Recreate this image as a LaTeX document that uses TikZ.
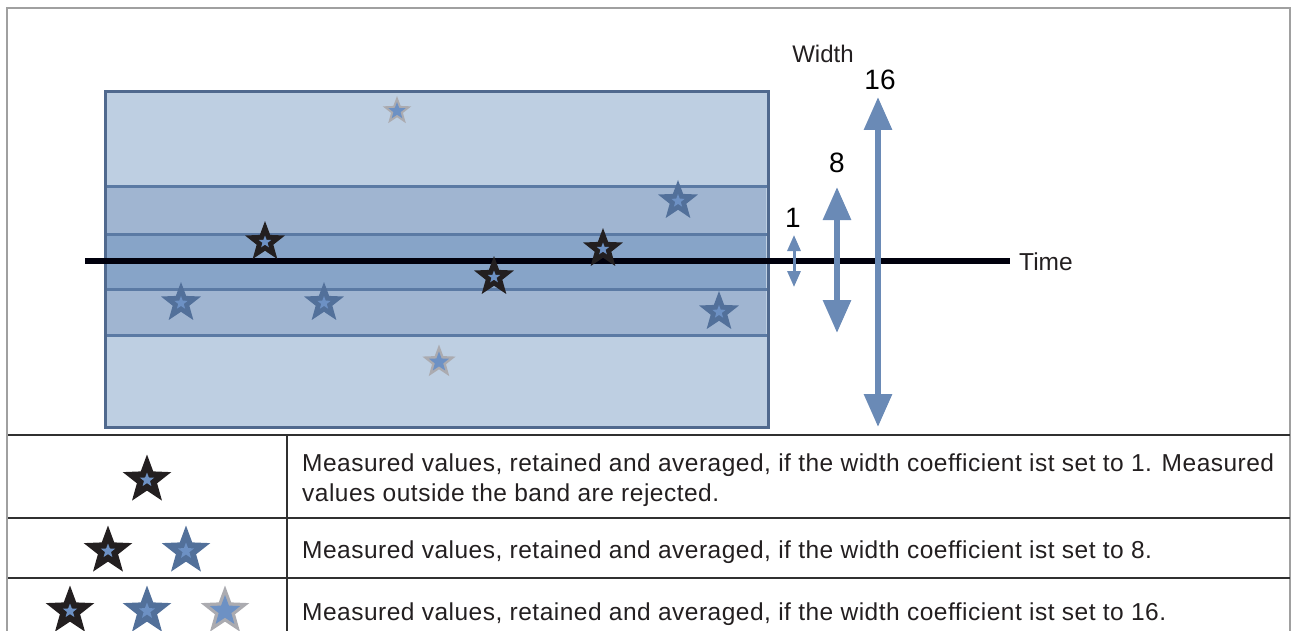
\documentclass[tikz,border=0pt]{standalone}
\usepackage{fontspec}
\setmainfont{Liberation Sans}
\usetikzlibrary{arrows.meta,shapes.geometric}

\definecolor{bandlight}{HTML}{BECFE2}
\definecolor{bandmid}{HTML}{A0B5D1}
\definecolor{bandin}{HTML}{87A4C8}
\definecolor{boxedge}{HTML}{50698E}
\definecolor{bandedge}{HTML}{5B7AA4}
\definecolor{arrowblue}{HTML}{6A8AB6}
\definecolor{starblack}{HTML}{231F20}
\definecolor{starblue}{HTML}{52709A}
\definecolor{starcore}{HTML}{6D91C4}
\definecolor{stargray}{HTML}{ABABB0}
\definecolor{framegray}{HTML}{A0A0A0}
\definecolor{rulegray}{HTML}{303030}

\tikzset{
  vstar/.style={star, star points=5, star point ratio=2.4, inner sep=0pt, outer sep=0pt, draw=none},
  legtext/.style={anchor=base west, inner sep=0pt, text=starblack, font=\fontsize{24.5pt}{30pt}\selectfont\addfontfeature{LetterSpace=2.0}},
  widthlabel/.style={inner sep=0pt, text=black, font=\fontsize{28pt}{30pt}\selectfont},
  bigarrow/.style={arrowblue, line width=6pt, {Triangle[length=33pt,width=27pt]}-{Triangle[length=33pt,width=27pt]}},
  smallarrow/.style={arrowblue, line width=3pt, {Triangle[length=16pt,width=13pt]}-{Triangle[length=16pt,width=13pt]}}
}

\begin{document}
\begin{tikzpicture}[x=1pt,y=-1pt]
    \useasboundingbox (0,0) rectangle (1292,631);

    % Draw frame and table rules
    \draw[framegray, line width=2.5pt] (7,631) -- (7,8) -- (1290,8) -- (1290,631);
    \draw[rulegray, line width=2.5pt] (8,435) -- (1290,435);
    \draw[rulegray, line width=2.5pt] (8,518) -- (1290,518);
    \draw[rulegray, line width=2.5pt] (8,578) -- (1290,578);
    \draw[rulegray, line width=2.5pt] (287,435) -- (287,631);

    % Draw bands
    \fill[bandlight] (105,92) rectangle (768,427);
    \fill[bandmid] (105,187) rectangle (766,335);
    \fill[bandin] (105,234) rectangle (766,289);
    \foreach \y in {187,234,289,335}
        \draw[bandedge, line width=3pt] (105,\y) -- (767,\y);
    \draw[boxedge, line width=3pt] (105,92) rectangle (768,427);

    % Time axis
    \coordinate (t0) at (85,261);
    \node[anchor=west, inner xsep=9pt, inner ysep=0pt, text=starblack,
          font=\fontsize{24.5pt}{30pt}\selectfont] (time) at (1010,262) {Time};
    \draw[black!95!blue, line width=5.5pt] (t0) -- (t0 -| time.west);

    % Width arrows
    \node[inner sep=0pt, text=starblack, font=\fontsize{24pt}{30pt}\selectfont] (width) at (823,54) {Width};
    \node[widthlabel] (lab16) at (880,80) {16};
    \node[widthlabel] (lab8) at (837,163) {8};
    \node[widthlabel] (lab1) at (793,218) {1};
    \coordinate (w16t) at (878,97);
    \coordinate (w16b) at (878,427);
    \coordinate (w8t) at (837,187);
    \coordinate (w8b) at (837,333);
    \coordinate (w1t) at (794,235);
    \coordinate (w1b) at (794,287);
    \draw[bigarrow] (w16t) -- (w16b);
    \draw[bigarrow] (w8t) -- (w8b);
    \draw[smallarrow] (w1t) -- (w1b);

    % Measured values
    \foreach \n/\x/\y in {a/265/242, b/603/249, c/494/277}{
        \node[vstar, fill=starblack, minimum size=42pt] (blk\n) at (\x,\y) {};
        \node[vstar, fill=starcore, minimum size=13pt] (blk\n c) at (blk\n) {};
    }
    \foreach \n/\x/\y in {a/678/201, b/181/303, c/324/303, d/719/312}{
        \node[vstar, fill=starblue, minimum size=42pt] (blu\n) at (\x,\y) {};
        \node[vstar, fill=starcore, minimum size=14pt] (blu\n c) at (blu\n) {};
    }
    \foreach \n/\x/\y/\s in {a/397/111/30, b/439/362/35}{
        \node[vstar, fill=stargray, minimum size=\s pt] (gry\n) at (\x,\y) {};
        \node[vstar, fill=starcore, minimum size=0.6*\s pt] (gry\n c) at (gry\n) {};
    }

    % Legend
    \foreach \n/\x/\y in {a/147/480, b/108/551, c/70/611}{
        \node[vstar, fill=starblack, minimum size=51pt] (lblk\n) at (\x,\y) {};
        \node[vstar, fill=starcore, minimum size=15pt] (lblk\n c) at (lblk\n) {};
    }
    \foreach \n/\x/\y in {a/186/551, b/147/611}{
        \node[vstar, fill=starblue, minimum size=51pt] (lblu\n) at (\x,\y) {};
        \node[vstar, fill=starcore, minimum size=17pt] (lblu\n c) at (lblu\n) {};
    }
    \node[vstar, fill=stargray, minimum size=51pt] (lgry) at (225,611) {};
    \node[vstar, fill=starcore, minimum size=32pt] (lgryc) at (lgry) {};

    \node[legtext] (row1a) at (302,471) {Measured values, retained and averaged, if the width coefficient ist set to 1. Measured};
    \node[legtext] (row1b) at (302,501) {values outside the band are rejected.};
    \node[legtext] (row2) at (302,558) {Measured values, retained and averaged, if the width coefficient ist set to 8.};
    \node[legtext] (row3) at (302,620) {Measured values, retained and averaged, if the width coefficient ist set to 16.};
\end{tikzpicture}
\end{document}
